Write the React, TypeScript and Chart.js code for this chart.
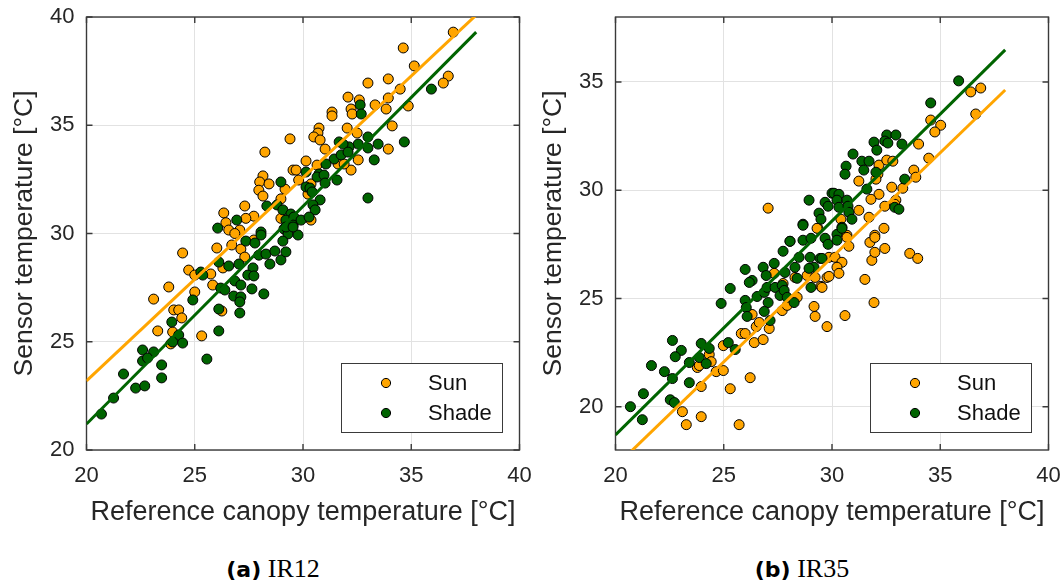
import { useEffect, useRef } from "react";
import { Chart, registerables } from "chart.js";

Chart.register(...registerables);

// ---------- data ----------
const xTicks = [20, 25, 30, 35, 40];
const ir12YTicks = [20, 25, 30, 35, 40];
const ir35YTicks = [20, 25, 30, 35];
const seriesLabels = ["Sun", "Shade"];
const xTitle = "Reference canopy temperature [°C]";
const yTitle = "Sensor temperature [°C]";
const captionA = ["(a)", "IR12"];
const captionB = ["(b)", "IR35"];

const ir12Sun: number[][] = [
  [29.4, 34.37], [28.24, 33.76], [30.14, 33.35], [29.54, 32.93], [28.15, 32.66], [28.0, 32.38], [28.43, 32.29],
  [27.96, 32.0], [28.15, 31.73], [29.17, 32.05], [28.98, 31.6], [29.8, 32.47], [27.31, 31.27], [27.73, 30.8],
  [27.36, 30.7], [26.34, 30.95], [26.44, 30.5], [26.57, 30.16], [27.08, 30.16], [26.85, 30.0], [28.98, 30.7],
  [29.2, 30.16], [29.31, 30.07],
  [36.94, 39.3], [34.63, 38.57], [35.14, 37.74], [36.71, 37.27], [36.48, 36.95], [33.0, 36.95], [33.94, 37.14],
  [34.49, 36.67], [32.08, 36.3], [32.6, 36.17], [32.22, 35.75], [32.27, 35.52], [33.33, 35.94], [33.94, 36.26],
  [33.84, 35.75], [34.86, 35.89], [31.34, 35.61], [31.34, 35.43], [34.12, 34.97], [32.04, 34.87], [30.74, 34.87],
  [30.69, 34.64], [30.5, 34.46], [30.79, 34.32], [32.5, 34.64], [31.02, 33.9], [33.94, 33.9], [32.55, 33.4],
  [32.22, 32.93], [31.62, 33.21], [31.9, 33.21], [30.65, 33.16], [30.37, 32.29], [30.23, 31.82], [30.37, 30.62],
  [29.68, 32.93],
  [23.1, 26.97], [23.8, 27.53], [23.29, 25.5], [24.03, 26.47], [24.26, 26.47], [24.4, 26.1], [23.98, 25.45],
  [23.89, 24.9], [24.44, 29.1], [24.72, 28.31], [25.0, 28.08], [25.74, 28.13], [25.0, 27.3], [25.32, 25.27],
  [25.83, 27.62], [26.25, 26.42], [26.02, 29.33], [26.71, 29.47], [27.13, 29.28], [27.31, 28.91], [26.3, 28.41],
  [27.73, 29.7],
];

const ir12Shade: number[][] = [
  [30.14, 32.84], [28.98, 32.38], [28.8, 31.32], [28.33, 31.27], [26.94, 30.62], [26.06, 30.25], [28.06, 30.07],
  [28.06, 29.93], [29.07, 31.09], [29.44, 30.9], [29.21, 30.62], [29.58, 30.76], [29.54, 30.39], [29.91, 30.62],
  [29.12, 30.21], [29.31, 29.98], [29.77, 29.93],
  [35.93, 36.67], [32.64, 35.94], [32.69, 35.52], [33.0, 34.46], [32.55, 34.13], [32.13, 34.0], [33.47, 34.13],
  [34.68, 34.23], [33.0, 33.95], [31.67, 34.23], [31.85, 34.13], [33.29, 33.4], [31.44, 33.44], [31.76, 33.63],
  [32.08, 33.76], [31.06, 33.21], [30.74, 32.75], [30.65, 32.61], [30.97, 32.7], [31.57, 32.47], [31.02, 32.33],
  [30.14, 32.15], [30.32, 32.1], [30.42, 31.92], [30.79, 31.55], [33.0, 31.64], [30.46, 31.32], [30.56, 31.09],
  [30.28, 30.76],
  [20.69, 21.66], [21.25, 22.4], [21.71, 23.51], [22.27, 22.86], [22.69, 22.96], [22.59, 24.62], [23.1, 24.53],
  [22.59, 24.11], [22.82, 24.25], [23.47, 23.93], [23.47, 23.33], [23.94, 25.91], [24.26, 25.31], [23.98, 24.99],
  [24.44, 24.94], [25.28, 28.22], [25.37, 28.08], [24.91, 26.93], [25.56, 24.2], [26.11, 26.51], [26.11, 25.5],
  [26.11, 28.68], [26.57, 28.5], [27.04, 28.59], [26.2, 27.48], [26.39, 27.39], [26.85, 27.81], [27.13, 27.62],
  [26.8, 27.11], [27.13, 27.07], [27.08, 26.84], [27.08, 26.33], [27.36, 29.65], [27.78, 29.56], [27.96, 29.0],
  [27.69, 28.41], [27.45, 28.08], [27.73, 28.04], [27.64, 27.44], [28.19, 27.21], [28.47, 28.59], [28.29, 29.05],
  [28.7, 29.19], [28.98, 28.78], [29.21, 29.15], [29.07, 29.65], [29.21, 30.3], [29.54, 30.3],
];

const ir35Sun: number[][] = [
  [27.05, 29.17], [29.35, 28.24], [36.41, 34.54], [36.87, 34.72], [36.64, 33.52], [34.56, 33.24], [35.02, 33.0],
  [34.75, 32.69], [34.0, 32.13], [34.47, 31.48], [32.17, 31.16], [32.53, 31.39], [32.81, 31.34], [32.12, 30.74],
  [31.24, 30.42], [32.03, 30.51], [33.78, 30.93], [33.87, 30.6], [32.76, 30.14], [33.27, 30.09], [32.17, 29.81],
  [31.8, 29.58], [32.95, 29.54], [32.9, 29.35], [32.44, 29.26], [31.24, 29.07], [31.71, 28.75], [30.41, 28.66],
  [30.69, 27.92], [32.4, 28.24], [31.98, 27.92],
  [23.09, 19.77], [23.27, 19.17], [23.96, 19.54], [23.96, 20.93], [23.78, 21.81], [23.87, 21.9], [24.33, 22.41],
  [24.42, 22.08], [24.65, 21.62], [24.98, 21.67], [25.3, 20.83], [25.71, 19.17], [26.22, 21.34], [24.98, 22.82],
  [25.81, 23.38], [25.99, 23.38], [26.41, 22.96], [26.82, 23.1], [27.1, 23.61], [26.31, 24.26], [26.5, 23.7],
  [26.64, 23.89], [27.33, 26.16], [27.7, 24.44], [27.93, 24.68], [28.39, 25.05], [27.74, 25.69], [28.29, 25.97],
  [28.06, 27.64], [29.31, 28.24], [28.85, 26.06], [29.22, 25.97], [29.49, 25.56], [29.77, 25.97], [29.86, 26.9],
  [29.17, 24.63], [29.22, 24.17], [29.77, 23.7],
  [33.59, 27.08], [33.96, 26.85], [31.94, 24.81], [30.6, 24.21], [31.52, 25.88], [31.84, 26.76], [31.98, 27.13],
  [32.44, 27.31], [31.75, 27.59], [31.98, 27.82], [30.69, 27.82], [30.78, 27.41], [30.14, 26.9], [30.46, 26.67],
  [30.23, 26.44], [30.32, 26.16], [29.86, 26.02], [29.54, 25.51],
];

const ir35Shade: number[][] = [
  [28.94, 29.54], [29.68, 29.44], [30.0, 29.86], [29.82, 29.26], [29.4, 28.94], [29.49, 28.66], [28.66, 28.43],
  [35.85, 35.05], [34.56, 34.03], [32.53, 32.55], [32.95, 32.55], [32.44, 32.27], [32.58, 32.18], [33.23, 32.13],
  [31.94, 32.22], [32.07, 31.85], [30.97, 31.67], [31.38, 31.34], [31.71, 31.34], [31.47, 30.93], [30.65, 31.11],
  [30.6, 30.74], [32.03, 30.83], [33.36, 30.51], [31.61, 30.05], [32.9, 29.21], [33.09, 29.12], [30.09, 29.86],
  [30.32, 29.81], [30.23, 29.54], [30.69, 29.54], [30.32, 29.21], [30.74, 29.26], [30.78, 28.98], [30.92, 28.66],
  [30.46, 28.29], [30.23, 27.96],
  [20.69, 20.0], [21.24, 19.4], [21.29, 20.6], [21.66, 21.9], [22.26, 21.62], [22.63, 23.06], [23.04, 22.6],
  [22.76, 22.31], [22.63, 21.3], [22.53, 20.32], [22.72, 20.19], [23.41, 21.11], [23.41, 22.04], [23.87, 22.27],
  [23.96, 22.92], [24.33, 22.69], [24.19, 21.99], [24.88, 24.77], [25.3, 25.46], [25.21, 22.96], [25.53, 22.64],
  [25.99, 26.34], [26.31, 25.83], [26.18, 25.74], [25.99, 24.91], [26.04, 24.58], [26.08, 24.17], [26.54, 25.09],
  [26.87, 25.28], [27.0, 25.51], [27.05, 24.81], [26.87, 24.4], [27.14, 23.98], [26.82, 26.44], [26.96, 26.06],
  [27.33, 26.62], [27.37, 25.51], [27.7, 25.6], [27.6, 25.14], [27.79, 25.37], [27.83, 26.2], [28.29, 26.44],
  [28.39, 25.93], [27.93, 25.05], [28.25, 24.81], [27.74, 27.18], [28.06, 27.64], [28.66, 27.69], [29.03, 27.78],
  [28.66, 28.38], [28.48, 26.9], [28.99, 26.9], [29.17, 26.44], [28.94, 26.39], [29.03, 25.51], [29.45, 26.85],
  [29.68, 27.78], [29.82, 27.5], [30.23, 27.69], [30.46, 28.24], [29.54, 26.85],
];

// fitted lines: [x, y] end points
const ir12SunFit: number[][] = [[20, 23.19], [38, 40.09]];
const ir12ShadeFit: number[][] = [[20, 21.2], [38, 39.3]];
const ir35SunFit: number[][] = [[20, 17.24], [38, 34.63]];
const ir35ShadeFit: number[][] = [[20, 18.7], [38, 36.48]];

// ---------- styling ----------
const SUN = "#FFA500";
const SHADE = "#006400";
const TEXT = "#262626";
const FONT = "'Liberation Sans', Arial, Helvetica, sans-serif";

const toXY = (arr: number[][]) => arr.map(([x, y]) => ({ x, y }));

const framePlugin = {
  id: "frame",
  beforeDatasetsDraw(chart: any) {
    const { ctx, chartArea: a, scales } = chart;
    ctx.save();
    ctx.strokeStyle = "#3a3a3a";
    ctx.lineWidth = 1.4;
    ctx.strokeRect(a.left, a.top, a.right - a.left, a.bottom - a.top);
    const L = 6;
    ctx.beginPath();
    for (const t of scales.x.ticks) {
      const px = scales.x.getPixelForValue(t.value);
      ctx.moveTo(px, a.bottom); ctx.lineTo(px, a.bottom - L);
      ctx.moveTo(px, a.top); ctx.lineTo(px, a.top + L);
    }
    for (const t of scales.y.ticks) {
      const py = scales.y.getPixelForValue(t.value);
      ctx.moveTo(a.left, py); ctx.lineTo(a.left + L, py);
      ctx.moveTo(a.right, py); ctx.lineTo(a.right - L, py);
    }
    ctx.stroke();
    ctx.restore();
  },
};

const legendPlugin = {
  id: "boxLegend",
  afterDraw(chart: any, _args: any, opts: any) {
    const { ctx, chartArea: a } = chart;
    const x0 = Math.round(a.right - opts.right - opts.width);
    const y0 = Math.round(a.bottom - opts.bottom - opts.height);
    ctx.save();
    ctx.fillStyle = "#ffffff";
    ctx.fillRect(x0, y0, opts.width, opts.height);
    ctx.strokeStyle = "#3a3a3a";
    ctx.lineWidth = 1;
    ctx.strokeRect(x0 + 0.5, y0 + 0.5, opts.width, opts.height);
    opts.items.forEach((it: any, i: number) => {
      const cy = y0 + opts.rowY[i];
      ctx.beginPath();
      ctx.arc(x0 + opts.markerX, cy, 4.6, 0, Math.PI * 2);
      ctx.fillStyle = it.color;
      ctx.fill();
      ctx.lineWidth = 1;
      ctx.strokeStyle = "#000";
      ctx.stroke();
      ctx.fillStyle = "#111";
      ctx.font = `22px ${FONT}`;
      ctx.textBaseline = "middle";
      ctx.textAlign = "left";
      ctx.fillText(it.label, x0 + opts.textX, cy + 1);
    });
    ctx.restore();
  },
};

type PanelProps = {
  sun: number[][];
  shade: number[][];
  sunFit: number[][];
  shadeFit: number[][];
  yMin: number;
  yMax: number;
  yTicks: number[];
  yAxisWidth: number;
  titlePad: number;
  padRight: number;
};

function Panel(p: PanelProps) {
  const ref = useRef<HTMLCanvasElement | null>(null);
  useEffect(() => {
    if (!ref.current) return;
    const chart = new Chart(ref.current, {
      type: "scatter",
      data: {
        datasets: [
          { label: "Sun fit", data: toXY(p.sunFit), showLine: true, borderColor: SUN, borderWidth: 3, pointRadius: 0, order: 1 } as any,
          { label: "Shade fit", data: toXY(p.shadeFit), showLine: true, borderColor: SHADE, borderWidth: 3, pointRadius: 0, order: 1 } as any,
          { label: seriesLabels[1], data: toXY(p.shade), backgroundColor: SHADE, borderColor: "#000", borderWidth: 1, pointRadius: 5, order: 2 },
          { label: seriesLabels[0], data: toXY(p.sun), backgroundColor: SUN, borderColor: "#000", borderWidth: 1, pointRadius: 5, order: 3 },
        ],
      },
      options: {
        animation: false,
        responsive: false,
        events: [],
        layout: { padding: { left: 0, right: p.padRight, top: 17, bottom: 0 } },
        plugins: {
          legend: { display: false },
          tooltip: { enabled: false },
          boxLegend: {
            right: 18, bottom: 18, width: 161, height: 69, markerX: 45, textX: 87, rowY: [20, 50],
            items: [
              { label: seriesLabels[0], color: SUN },
              { label: seriesLabels[1], color: SHADE },
            ],
          },
        } as any,
        scales: {
          x: {
            type: "linear",
            min: 20,
            max: 40,
            afterBuildTicks: (s: any) => { s.ticks = xTicks.map((v) => ({ value: v })); },
            afterFit: (s: any) => { s.height = 90; s.paddingLeft = 0; s.paddingRight = 0; },
            grid: { color: "#e2e2e2", drawTicks: false, lineWidth: 1 },
            border: { display: false },
            ticks: { font: { family: FONT, size: 22 }, color: TEXT, padding: 13 },
            title: { display: true, text: xTitle, font: { family: FONT, size: 27 }, color: TEXT, padding: { top: 0, bottom: 11 } },
          },
          y: {
            type: "linear",
            min: p.yMin,
            max: p.yMax,
            afterBuildTicks: (s: any) => { s.ticks = p.yTicks.map((v) => ({ value: v })); },
            afterFit: (s: any) => { s.width = p.yAxisWidth; s.paddingTop = 0; s.paddingBottom = 0; },
            grid: { color: "#e2e2e2", drawTicks: false, lineWidth: 1 },
            border: { display: false },
            ticks: { font: { family: FONT, size: 22 }, color: TEXT, padding: 12 },
            title: { display: true, text: yTitle, font: { family: FONT, size: 26.5 }, color: TEXT, padding: { top: p.titlePad, bottom: 0 } },
          },
        },
      },
      plugins: [framePlugin, legendPlugin],
    });
    return () => chart.destroy();
  }, []);
  return <canvas ref={ref} width={532} height={540} style={{ display: "block", width: 532, height: 540 }} />;
}

function Caption({ parts, left, width }: { parts: string[]; left: number; width: number }) {
  return (
    <div
      style={{
        position: "absolute",
        left,
        top: 554,
        width,
        height: 30,
        lineHeight: "30px",
        textAlign: "center",
        color: "#000",
        whiteSpace: "nowrap",
      }}
    >
      <span style={{ fontFamily: "'DejaVu Sans', sans-serif", fontWeight: "bold", fontSize: 22 }}>{parts[0]}</span>
      <span style={{ fontFamily: "'Liberation Serif', 'DejaVu Serif', serif", fontSize: 26 }}> {parts[1]}</span>
    </div>
  );
}

export default function App() {
  return (
    <div style={{ position: "absolute", left: 0, top: 0, width: 1064, height: 583, background: "#fff", overflow: "hidden" }}>
      <div style={{ position: "absolute", left: 0, top: 0 }}>
        <Panel sun={ir12Sun} shade={ir12Shade} sunFit={ir12SunFit} shadeFit={ir12ShadeFit}
          yMin={20} yMax={40} yTicks={ir12YTicks} yAxisWidth={86.5} titlePad={8.5} padRight={12.5} />
      </div>
      <div style={{ position: "absolute", left: 532, top: 0 }}>
        <Panel sun={ir35Sun} shade={ir35Shade} sunFit={ir35SunFit} shadeFit={ir35ShadeFit}
          yMin={18} yMax={38} yTicks={ir35YTicks} yAxisWidth={83.5} titlePad={5.5} padRight={15.5} />
      </div>
      <Caption parts={captionA} left={0} width={546} />
      <Caption parts={captionB} left={540} width={524} />
    </div>
  );
}
